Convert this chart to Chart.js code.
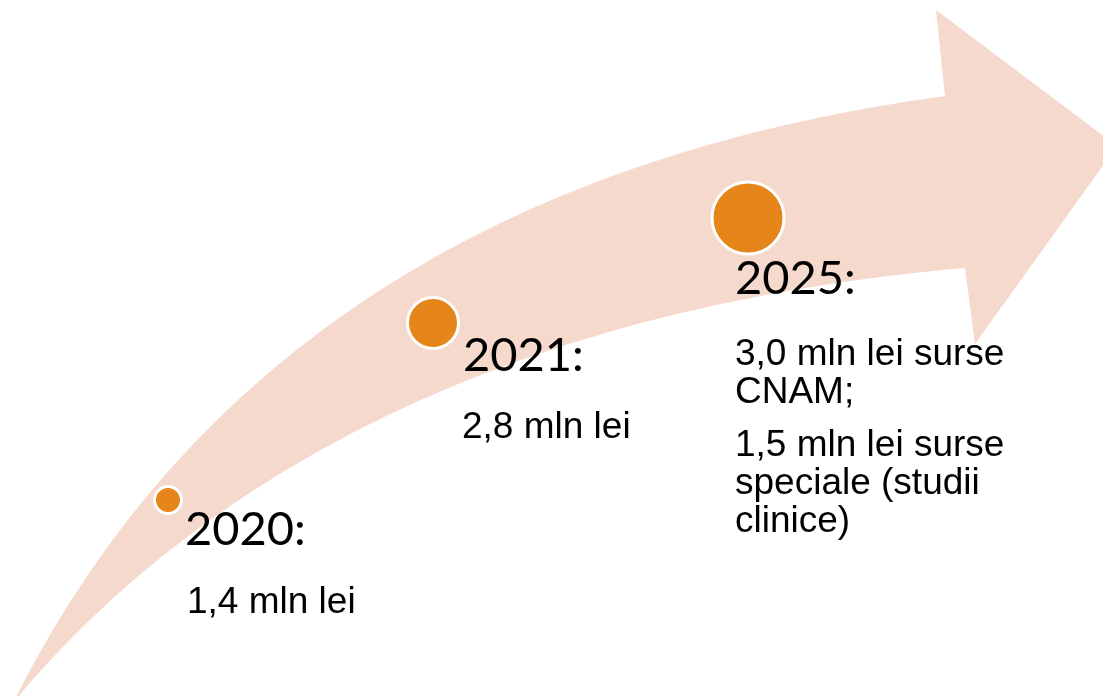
<!DOCTYPE html>
<html>
<head>
<meta charset="utf-8">
<script src="https://cdn.jsdelivr.net/npm/chart.js@4.4.1/dist/chart.umd.min.js"></script>
<style>
  html, body { margin: 0; padding: 0; background: #fff; }
  #wrap { width: 1103px; height: 696px; }
</style>
</head>
<body>
<div id="wrap"><canvas id="timeline"></canvas></div>
<script>
// Funding timeline (mln lei)
const years = ['2020', '2021', '2025']
const amounts = [1.4, 2.8, 4.5]
const details = [
  ['1,4 mln lei'],
  ['2,8 mln lei'],
  ['3,0 mln lei surse', 'CNAM;', '', '1,5 mln lei surse', 'speciale (studii', 'clinice)']
]

// Layout (in scale units, x right / y down, same size as the canvas)
const markerX = [168, 433, 748]
const markerY = [500, 323, 218]
const markerRadius = [13.5, 25.5, 36]
const titlePos = [[185, 545], [463, 371], [735, 294]]
const detailPos = [[187, 613], [462, 438], [735, 365]]

const arrowColor = '#F6D9CD'
const dotColor = '#E6851A'

// Big curved arrow behind the markers
const arrowPlugin = {
  id: 'arrow',
  beforeDatasetsDraw(chart) {
    const { ctx, scales: { x, y } } = chart
    const p = (a, b) => [x.getPixelForValue(a), y.getPixelForValue(b)]
    ctx.save()
    ctx.fillStyle = arrowColor
    ctx.beginPath()
    let q = p(13, 703)
    ctx.moveTo(q[0], q[1])
    let c = p(270, 188)
    q = p(945, 96)
    ctx.quadraticCurveTo(c[0], c[1], q[0], q[1])
    q = p(936, 10); ctx.lineTo(q[0], q[1])
    q = p(1117, 146); ctx.lineTo(q[0], q[1])
    q = p(975, 344); ctx.lineTo(q[0], q[1])
    q = p(965, 268); ctx.lineTo(q[0], q[1])
    // lower edge back to the tail
    const c1 = p(600, 300)
    const c2 = p(250, 420)
    q = p(13, 703)
    ctx.bezierCurveTo(c1[0], c1[1], c2[0], c2[1], q[0], q[1])
    ctx.closePath()
    ctx.fill()
    ctx.restore()
  }
}

// Year titles and amounts next to each marker
const labelPlugin = {
  id: 'labels',
  afterDatasetsDraw(chart) {
    const { ctx, scales: { x, y } } = chart
    ctx.save()
    ctx.fillStyle = '#000'
    ctx.textBaseline = 'alphabetic'
    ctx.textAlign = 'left'
    years.forEach((yr, i) => {
      ctx.font = '47px Lato'
      ctx.fillText(yr + ':', x.getPixelForValue(titlePos[i][0]), y.getPixelForValue(titlePos[i][1]))
      ctx.font = '37px "Liberation Sans"'
      let ly = detailPos[i][1]
      details[i].forEach((line) => {
        if (line === '') {
          ly += 15
          return
        }
        ctx.fillText(line, x.getPixelForValue(detailPos[i][0]), y.getPixelForValue(ly))
        ly += 38
      })
    })
    ctx.restore()
  }
}

const ctx = document.getElementById('timeline').getContext('2d')
new Chart(ctx, {
  type: 'bubble',
  data: {
    labels: years,
    datasets: [
      {
        label: 'mln lei',
        data: years.map((yr, i) => ({ x: markerX[i], y: markerY[i], v: amounts[i] })),
        radius: (c) => markerRadius[c.dataIndex],
        backgroundColor: dotColor,
        borderColor: '#ffffff',
        borderWidth: 3,
        clip: false
      }
    ]
  },
  options: {
    responsive: true,
    maintainAspectRatio: false,
    animation: false,
    events: [],
    layout: { padding: 0, autoPadding: false },
    plugins: {
      legend: { display: false },
      tooltip: { enabled: false }
    },
    scales: {
      x: { type: 'linear', min: 0, max: 1103, display: false },
      y: { type: 'linear', min: 0, max: 696, reverse: true, display: false }
    }
  },
  plugins: [arrowPlugin, labelPlugin]
})
</script>
</body>
</html>
